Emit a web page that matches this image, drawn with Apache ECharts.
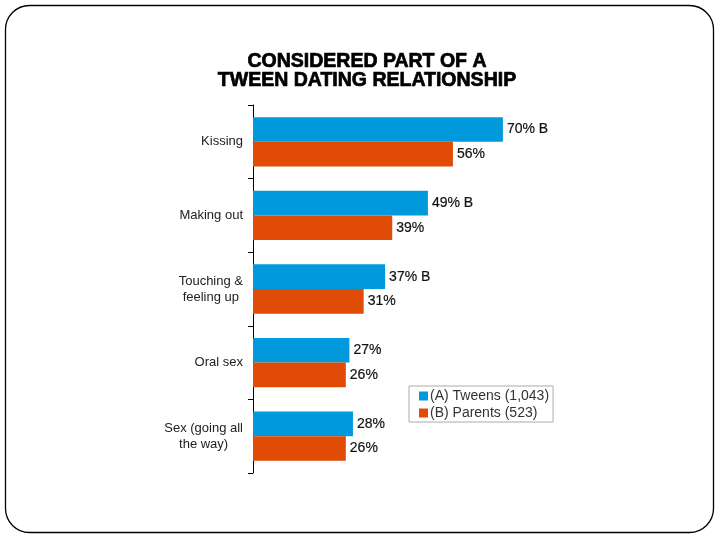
<!DOCTYPE html>
<html>
<head>
<meta charset="utf-8">
<script src="https://cdn.jsdelivr.net/npm/echarts@6/dist/echarts.min.js"></script>
<style>html,body{margin:0;padding:0;background:#fff;}#c{width:720px;height:540px;}</style>
</head>
<body>
<div id="c"></div>
<script>
var titleLines = ['CONSIDERED PART OF A', 'TWEEN DATING RELATIONSHIP'];
var categories = ['Kissing', 'Making out', 'Touching &\nfeeling up', 'Oral sex', 'Sex (going all\nthe way)'];
var seriesNames = ['(A) Tweens (1,043)', '(B) Parents (523)'];
var tweens = [70, 49, 37, 27, 28];
var tweensSig = ['B', 'B', 'B', '', ''];
var parents = [56, 39, 31, 26, 26];
var parentsSig = ['', '', '', '', ''];

var FONT = 'Liberation Sans, Arial, sans-serif';
var chart = echarts.init(document.getElementById('c'), null, {renderer: 'canvas'});
function labelFmt(sig) {
  return function (p) {
    var s = sig[p.dataIndex];
    return p.value + '%' + (s ? ' ' + s : '');
  };
}
var labelStyle = {show: true, position: 'right', distance: 4, fontFamily: FONT, fontSize: 14, color: '#111', textBorderColor: '#111', textBorderWidth: 0.2};
chart.setOption({
  animation: false,
  backgroundColor: '#fff',
  title: {
    text: titleLines.join('\n'),
    left: 362, top: 47, textAlign: 'center',
    textStyle: {fontFamily: FONT, fontWeight: 'bold', fontSize: 19.5, lineHeight: 19, color: '#000', textBorderColor: '#000', textBorderWidth: 0.7}
  },
  graphic: [{
    type: 'rect', shape: {x: 5.5, y: 5.5, width: 708, height: 527, r: 24},
    style: {fill: 'none', stroke: '#000', lineWidth: 1.3}, silent: true, z: -1
  }],
  legend: {
    orient: 'vertical', left: 409, top: 386,
    data: seriesNames,
    itemWidth: 9, itemHeight: 9, itemGap: 3,
    icon: 'rect',
    borderColor: '#aaa', borderWidth: 1,
    padding: [3, 4, 2, 10],
    textStyle: {fontFamily: FONT, fontSize: 14, color: '#333', padding: [0, 0, 0, -3]}
  },
  grid: {left: 253, top: 105, right: 110, bottom: 67, containLabel: false},
  xAxis: {type: 'value', min: 0, max: 100, show: false},
  yAxis: {
    type: 'category', inverse: true, data: categories,
    axisLine: {show: true, lineStyle: {color: '#000', width: 1}},
    axisTick: {show: true, length: 5, lineStyle: {color: '#000'}},
    axisLabel: {
      margin: 10, align: 'right',
      fontFamily: FONT, fontSize: 13, color: '#222', lineHeight: 16,
      formatter: function (v) {
        return v.split('\n').map(function (l) { return '{c|' + l + '}'; }).join('\n');
      },
      rich: {c: {align: 'center', fontFamily: FONT, fontSize: 13, color: '#222', lineHeight: 16}}
    }
  },
  series: [{
    name: seriesNames[0], type: 'bar', data: tweens, barGap: '0%', barCategoryGap: '33%',
    itemStyle: {color: '#0099DC'},
    label: Object.assign({}, labelStyle, {formatter: labelFmt(tweensSig)})
  }, {
    name: seriesNames[1], type: 'bar', data: parents,
    itemStyle: {color: '#E04B05'},
    label: Object.assign({}, labelStyle, {formatter: labelFmt(parentsSig)})
  }]
});
</script>
</body>
</html>
